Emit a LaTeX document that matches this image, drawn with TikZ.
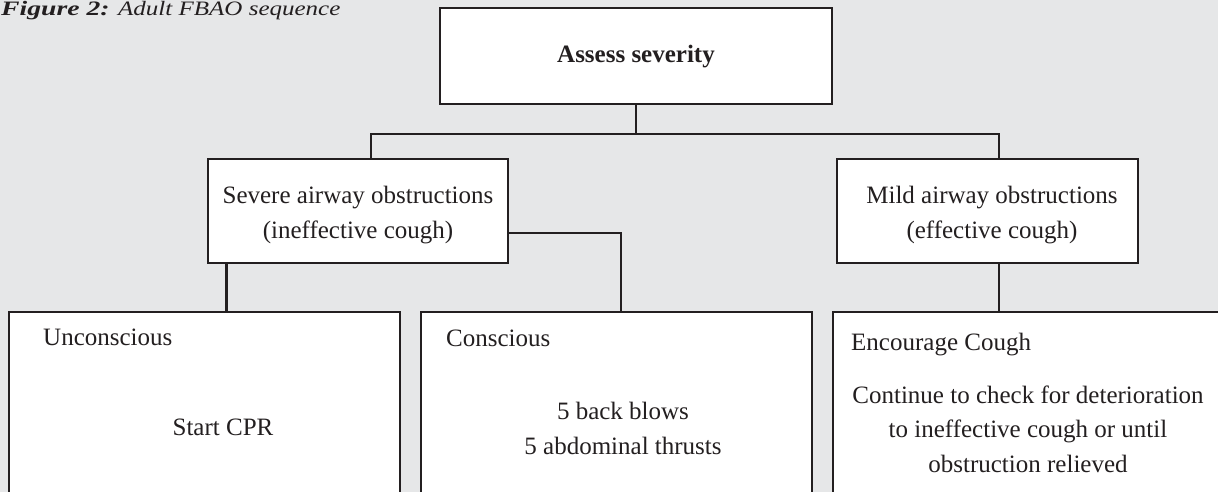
\documentclass[tikz,border=0pt]{standalone}
\usepackage{fontspec}
\setmainfont{Liberation Serif}
\newfontfamily\captionfont[FakeStretch=1.22]{Liberation Serif}
\newfontfamily\captionnumfont[FakeStretch=1.35]{Liberation Serif}
\definecolor{ink}{HTML}{231F20}
\definecolor{paper}{HTML}{E6E7E8}
\begin{document}
\begin{tikzpicture}[x=1pt,y=-1pt,
  box/.style={draw=ink, line width=2.8pt, fill=white, inner sep=0pt},
  link/.style={draw=ink, line width=2.8pt},
  txt/.style={text=ink, inner sep=0pt, font=\fontsize{25}{34.5}\selectfont},
  captxt/.style={text=ink, inner sep=0pt, anchor=base west}]
\useasboundingbox (0,0) rectangle (1218,492);
\fill[paper] (0,0) rectangle (1218,492);
\begin{scope}
\clip (0,0) rectangle (1218,492);

% caption
\node[captxt, font=\captionnumfont\fontsize{20.5}{22}\selectfont] (fignum) at (1,16)
  {\bfseries\itshape Figure 2:};
\node[captxt, font=\captionfont\fontsize{20.5}{22}\selectfont] (figname) at (118,16)
  {\itshape Adult FBAO sequence};

% decision boxes
\node[box, minimum width=392pt, minimum height=96pt] (assess) at (636,56) {};
\node[box, minimum width=300pt, minimum height=104pt] (severe) at (358,211) {};
\node[box, minimum width=301pt, minimum height=104pt] (mild) at (987.5,211) {};

% action boxes (run past the lower edge)
\node[box, minimum width=391pt, minimum height=250pt] (uncons) at (204.5,437) {};
\node[box, minimum width=391pt, minimum height=250pt] (cons) at (616.5,437) {};
\node[box, minimum width=391pt, minimum height=250pt] (cough) at (1028.5,437) {};

% connectors
\coordinate (split) at (636,134);
\draw[link] (assess.south) -- (split);
\draw[link] (split) -| ([xshift=13pt]severe.north);
\draw[link] (split) -| ([xshift=11.5pt]mild.north);
\coordinate (sevdown) at ([xshift=20pt]severe.south west);
\draw[link] (sevdown) -- (sevdown |- uncons.north);
\draw[link] ([yshift=-22pt]severe.east) -| ([xshift=4.5pt]cons.north);
\draw[link] ([xshift=11.5pt]mild.south) -- ([xshift=-29.5pt]cough.north);

% texts (multi-line nodes sit on the baseline of their last line)
\node[txt, anchor=base] (assessT) at (636,63) {\bfseries Assess severity};
\node[txt, anchor=base, align=center] (severeT) at (358,238)
  {Severe airway obstructions\\(ineffective cough)};
\node[txt, anchor=base, align=center] (mildT) at (992,238)
  {Mild airway obstructions\\(effective cough)};
\node[txt, anchor=base west] (unconsT) at (43,345) {Unconscious};
\node[txt, anchor=base] (cpr) at (223,435) {Start CPR};
\node[txt, anchor=base west] (consT) at (446,346) {Conscious};
\node[txt, anchor=base, align=center] (blows) at (623,454)
  {5 back blows\\5 abdominal thrusts};
\node[txt, anchor=base west] (coughT) at (851,350) {Encourage Cough};
\node[txt, anchor=base, align=center] (check) at (1028,472)
  {Continue to check for deterioration\\to ineffective cough or until\\obstruction relieved};
\end{scope}
\end{tikzpicture}
\end{document}
